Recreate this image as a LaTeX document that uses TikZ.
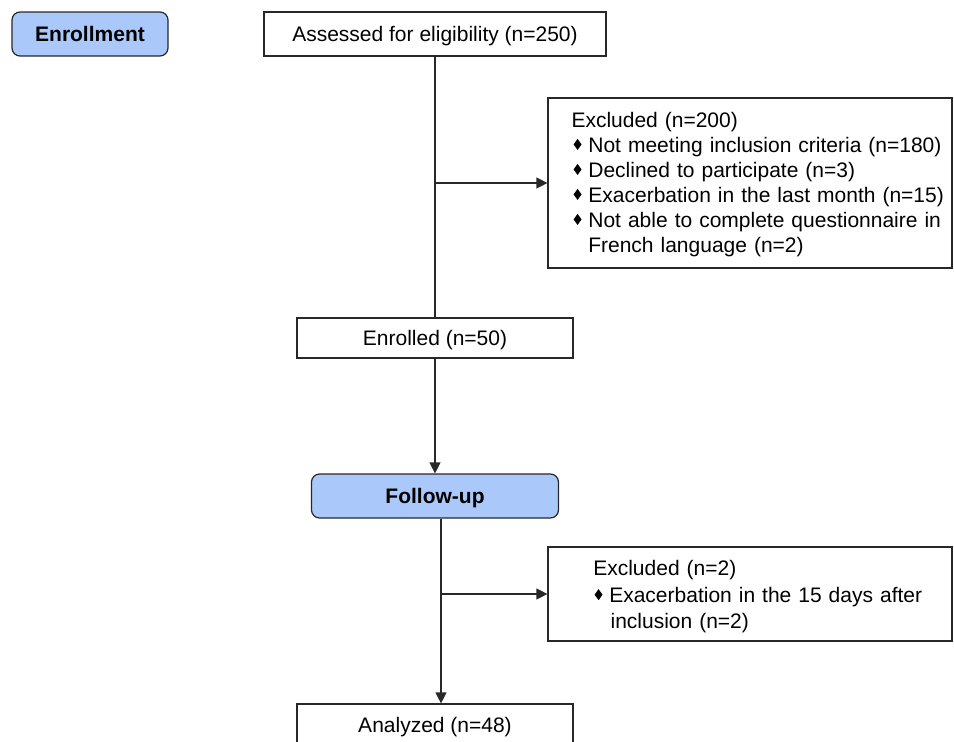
\documentclass[tikz,border=0pt]{standalone}
\usepackage{fontspec}
\usepackage{graphicx}
\setmainfont{Liberation Sans}
\usetikzlibrary{arrows.meta,calc}
\definecolor{hdrblue}{RGB}{170,200,250}
\definecolor{edge}{RGB}{40,40,40}
\newcommand{\dia}[1]{\makebox[#1][l]{\raisebox{2.1pt}{\scalebox{1}[1.4]{\rotatebox{45}{\rule{5.6pt}{5.6pt}}}}}}
\begin{document}
\begin{tikzpicture}[x=1pt,y=-1pt,
  every node/.style={font=\fontsize{21}{25}\selectfont, inner sep=0pt, line width=1.2pt},
  onel/.style={text height=15pt, text depth=0pt},
  plainbox/.style={draw=edge, fill=white, rectangle, onel},
  hdrbox/.style={draw=edge, fill=hdrblue, rounded corners=8pt, onel, font=\fontsize{21}{25}\selectfont\bfseries},
  exbox/.style={draw=edge, fill=white, align=left, text width=390pt},
  arr/.style={draw=edge, -{Triangle[length=11pt,width=11pt]}, line width=1.2pt},
  conn/.style={draw=edge, line width=1.2pt}]
\clip (0,0) rectangle (954,742);
\fill[white] (0,0) rectangle (954,742);

\node[hdrbox, minimum width=156, minimum height=44] (enr) at (90,34) {Enrollment};
\node[plainbox, minimum width=342, minimum height=44] (ass) at (435,34) {Assessed for eligibility (n=250)};
\node[exbox, minimum width=404, minimum height=170] (ex1) at (750,183) {%
\rule{0pt}{17.5pt}\hspace*{16.5pt}Excluded (n=200)\\
\hspace*{18.6pt}\dia{14.8pt}Not meeting inclusion criteria (n=180)\\
\hspace*{18.6pt}\dia{14.8pt}Declined to participate (n=3)\\
\hspace*{18.6pt}\dia{14.8pt}Exacerbation in the last month (n=15)\\
\hspace*{18.6pt}\dia{14.8pt}Not able to complete questionnaire in\\
\hspace*{33.3pt}French language (n=2)};
\node[plainbox, minimum width=276, minimum height=40] (enl) at (435,338) {Enrolled (n=50)};
\node[hdrbox, minimum width=247, minimum height=44] (fu) at (435,496) {Follow-up};
\node[exbox, minimum width=404, minimum height=94, font=\fontsize{21}{26.5}\selectfont] (ex2) at (750,594) {%
\rule{0pt}{21pt}\hspace*{38.3pt}Excluded (n=2)\\
\hspace*{39.6pt}\dia{14.7pt}Exacerbation in the 15 days after\\
\hspace*{55.6pt}inclusion (n=2)};
\node[plainbox, minimum width=276, minimum height=42] (ana) at (435,725) {Analyzed (n=48)};

\coordinate (j1) at (ass.south |- ex1.west);
\coordinate (fuout) at ([xshift=6pt]fu.south);
\coordinate (j2) at (fuout |- ex2.west);
\draw[conn] (ass.south) -- (enl.north);
\draw[arr] (j1) -- (ex1.west);
\draw[arr] (enl.south) -- (fu.north);
\draw[arr] (fuout) -- (fuout |- ana.north);
\draw[arr] (j2) -- (ex2.west);
\end{tikzpicture}
\end{document}
